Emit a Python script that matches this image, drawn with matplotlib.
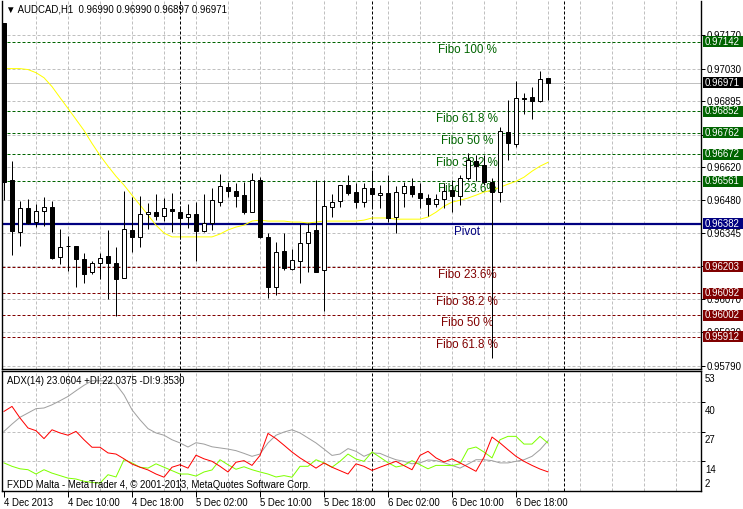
import matplotlib
matplotlib.use('Agg')
import matplotlib.pyplot as plt
from matplotlib.patches import Rectangle

# ---------------- data ----------------
opens = [0.97221, 0.96564, 0.96348, 0.96448, 0.96390, 0.96436, 0.96452, 0.96245, 0.96292, 0.96290,
         0.96236, 0.96182, 0.96220, 0.96249, 0.96220, 0.96157, 0.96357, 0.96328, 0.96423, 0.96431,
         0.96415, 0.96444, 0.96431, 0.96411, 0.96423, 0.96353, 0.96386, 0.96473, 0.96535, 0.96519,
         0.96502, 0.96431, 0.96564, 0.96328, 0.96120, 0.96269, 0.96195, 0.96228, 0.96303, 0.96357,
         0.96191, 0.96452, 0.96477, 0.96544, 0.96515, 0.96473, 0.96531, 0.96502, 0.96510, 0.96411,
         0.96510, 0.96540, 0.96510, 0.96490, 0.96465, 0.96486, 0.96523, 0.96498, 0.96573, 0.96643,
         0.96627, 0.96556, 0.96515, 0.96764, 0.96714, 0.96909, 0.96913, 0.96893, 0.96990]
highs = [0.97221, 0.96643, 0.96477, 0.96486, 0.96465, 0.96494, 0.96477, 0.96361, 0.96332, 0.96292,
         0.96261, 0.96228, 0.96261, 0.96357, 0.96286, 0.96519, 0.96494, 0.96498, 0.96469, 0.96506,
         0.96490, 0.96510, 0.96456, 0.96465, 0.96473, 0.96506, 0.96531, 0.96589, 0.96556, 0.96552,
         0.96556, 0.96594, 0.96577, 0.96344, 0.96307, 0.96344, 0.96278, 0.96382, 0.96386, 0.96564,
         0.96564, 0.96506, 0.96544, 0.96585, 0.96552, 0.96552, 0.96606, 0.96544, 0.96585, 0.96540,
         0.96556, 0.96573, 0.96552, 0.96506, 0.96506, 0.96552, 0.96564, 0.96585, 0.96677, 0.96668,
         0.96668, 0.96573, 0.96785, 0.96901, 0.96980, 0.96930, 0.96955, 0.97021, 0.96990]
lows = [0.96481, 0.96253, 0.96290, 0.96380, 0.96369, 0.96373, 0.96236, 0.96215, 0.96186, 0.96120,
        0.96137, 0.96174, 0.96153, 0.96070, 0.95999, 0.96155, 0.96265, 0.96286, 0.96361, 0.96398,
        0.96394, 0.96348, 0.96319, 0.96365, 0.96228, 0.96348, 0.96357, 0.96456, 0.96494, 0.96452,
        0.96423, 0.96431, 0.96323, 0.96074, 0.96087, 0.96191, 0.96191, 0.96137, 0.96182, 0.96180,
        0.96020, 0.96411, 0.96452, 0.96502, 0.96448, 0.96452, 0.96448, 0.96448, 0.96390, 0.96344,
        0.96452, 0.96494, 0.96448, 0.96415, 0.96452, 0.96448, 0.96431, 0.96461, 0.96564, 0.96560,
        0.96544, 0.95822, 0.96473, 0.96648, 0.96702, 0.96839, 0.96818, 0.96889, 0.96897]
closes = [0.96556, 0.96353, 0.96448, 0.96386, 0.96436, 0.96452, 0.96240, 0.96286, 0.96288, 0.96236,
          0.96174, 0.96220, 0.96240, 0.96220, 0.96153, 0.96361, 0.96328, 0.96423, 0.96431, 0.96415,
          0.96448, 0.96436, 0.96407, 0.96423, 0.96353, 0.96386, 0.96481, 0.96540, 0.96519, 0.96498,
          0.96431, 0.96564, 0.96328, 0.96120, 0.96265, 0.96199, 0.96232, 0.96303, 0.96348, 0.96182,
          0.96456, 0.96473, 0.96544, 0.96510, 0.96473, 0.96531, 0.96506, 0.96510, 0.96407, 0.96515,
          0.96540, 0.96506, 0.96490, 0.96465, 0.96486, 0.96519, 0.96498, 0.96573, 0.96648, 0.96623,
          0.96556, 0.96515, 0.96768, 0.96718, 0.96909, 0.96905, 0.96893, 0.96988, 0.96971]
ma_values = [0.97030, 0.97030, 0.97030, 0.97026, 0.97013, 0.96992, 0.96955, 0.96909, 0.96864, 0.96818,
             0.96772, 0.96718, 0.96668, 0.96623, 0.96581, 0.96544, 0.96502, 0.96461, 0.96419, 0.96377,
             0.96344, 0.96328, 0.96328, 0.96328, 0.96328, 0.96328, 0.96328, 0.96340, 0.96357, 0.96369,
             0.96377, 0.96394, 0.96398, 0.96394, 0.96394, 0.96394, 0.96390, 0.96390, 0.96386, 0.96390,
             0.96394, 0.96394, 0.96394, 0.96394, 0.96394, 0.96398, 0.96407, 0.96407, 0.96407, 0.96402,
             0.96402, 0.96402, 0.96402, 0.96411, 0.96431, 0.96456, 0.96473, 0.96481, 0.96490, 0.96502,
             0.96515, 0.96523, 0.96535, 0.96548, 0.96560, 0.96577, 0.96602, 0.96623, 0.96639]
adx = [27.2, 30.4, 33.4, 35.3, 37.2, 37.5, 38.9, 40.7, 42.6, 45.1,
       47.5, 49.5, 49.5, 49.5, 48.0, 43.3, 36.7, 32.3, 28.4, 26.5,
       25.5, 23.5, 22.1, 20.3, 22.2, 21.6, 20.4, 19.9, 19.4, 18.7,
       17.5, 16.2, 17.2, 22.1, 25.5, 26.9, 27.9, 26.5, 24.3, 22.1,
       19.4, 16.6, 17.2, 19.6, 18.4, 16.2, 17.7, 17.5, 16.0, 14.7,
       14.0, 12.9, 13.3, 14.6, 14.3, 13.4, 12.2, 11.0, 12.8, 14.7,
       14.7, 14.3, 13.3, 13.3, 14.0, 14.7, 16.2, 19.1, 23.06]
plus_di = [13.3, 11.8, 10.7, 10.3, 8.4, 10.3, 8.8, 7.7, 6.6, 6.2,
           5.2, 4.7, 4.4, 8.1, 7.1, 14.7, 13.3, 11.4, 11.0, 12.9,
           11.4, 9.9, 8.4, 8.4, 7.5, 9.3, 10.2, 14.7, 12.5, 10.5,
           11.6, 10.3, 9.3, 8.4, 7.1, 7.7, 7.0, 11.8, 11.8, 14.7,
           13.3, 11.4, 14.0, 17.2, 15.0, 14.0, 18.1, 15.8, 13.4, 11.5,
           12.2, 14.3, 12.5, 10.7, 12.2, 12.2, 12.1, 12.9, 19.4, 20.3,
           18.1, 15.5, 23.5, 25.0, 25.0, 21.6, 21.6, 25.0, 22.04]
minus_di = [36.0, 38.2, 33.1, 28.7, 27.5, 24.0, 27.9, 26.5, 25.5, 27.2,
            23.5, 20.2, 20.2, 17.7, 17.2, 15.1, 12.8, 11.4, 10.2, 8.4,
            7.0, 11.4, 12.5, 11.0, 16.7, 15.1, 14.0, 11.8, 9.3, 13.6,
            14.3, 12.2, 16.6, 26.3, 24.0, 21.1, 18.1, 15.5, 13.3, 11.0,
            13.3, 11.4, 9.9, 8.4, 12.9, 11.8, 10.0, 11.4, 12.7, 14.0,
            12.1, 10.3, 16.6, 18.4, 15.5, 13.7, 15.1, 13.3, 11.5, 9.6,
            15.8, 24.7, 22.1, 19.1, 16.2, 14.0, 12.2, 10.6, 9.35]

time_labels = ['4 Dec 2013', '4 Dec 10:00', '4 Dec 18:00', '5 Dec 02:00', '5 Dec 10:00',
               '5 Dec 18:00', '6 Dec 02:00', '6 Dec 10:00', '6 Dec 18:00']
price_grid = [0.97170, 0.97030, 0.96895, 0.96755, 0.96620, 0.96480, 0.96345, 0.96205,
              0.96070, 0.95930, 0.95790]
hidden_grid_labels = [0.96755, 0.96205]
fibo_up_levels = [0.97142, 0.96852, 0.96762, 0.96672, 0.96561]
fibo_up_names = ['Fibo 100 %', 'Fibo 61.8 %', 'Fibo 50 %', 'Fibo 38.2 %', 'Fibo 23.6%']
fibo_dn_levels = [0.96203, 0.96092, 0.96002, 0.95912]
fibo_dn_names = ['Fibo 23.6%', 'Fibo 38.2 %', 'Fibo 50 %', 'Fibo 61.8 %']
pivot_level = 0.96382
bid_price = 0.96971
adx_levels = [53, 40, 27, 14, 2]
title_text = '\u25bc AUDCAD,H1  0.96990 0.96990 0.96897 0.96971'
adx_text = 'ADX(14) 23.0604 +DI:22.0375 -DI:9.3530'
copyright_text = 'FXDD Malta - MetaTrader 4, \u00a9 2001-2013, MetaQuotes Software Corp.'

# ---------------- layout ----------------
W, H = 743, 509
FONT = ['Liberation Sans', 'DejaVu Sans']
plt.rcParams['font.family'] = FONT
fig = plt.figure(figsize=(W / 100, H / 100), dpi=100)
fig.patch.set_facecolor('white')

def fx(x):
    return x / W

def fy(y):
    return 1 - y / H

ax = fig.add_axes([fx(2), fy(369), fx(701) - fx(2), fy(1) - fy(369)])
ax2 = fig.add_axes([fx(2), fy(491), fx(701) - fx(2), fy(371) - fy(491)])

XMIN, XMAX = -0.25, 87.125
ax.set_xlim(XMIN, XMAX)
ax2.set_xlim(XMIN, XMAX)
ax.set_ylim(0.95777, 0.97312)
ax2.set_ylim(0.92, 53.8)

GRID = '#c0c0c0'
GREEN = '#006400'
RED = '#800000'
NAVY = '#000080'
PX = 0.72
SMALL = 6.9

for a in (ax, ax2):
    a.set_facecolor('white')
    for s in a.spines.values():
        s.set_color('black')
        s.set_linewidth(1.0)
    for k in range(4, 88, 4):
        a.axvline(k, color=GRID, lw=PX, dashes=(3, 2), zorder=0.5)
    for k in (22, 46, 70):
        a.axvline(k, color='black', lw=PX, dashes=(3, 2), zorder=0.8)
ax.spines['top'].set_visible(False)

for g in price_grid:
    ax.axhline(g, color=GRID, lw=PX, dashes=(3, 2), zorder=0.5)
for g in adx_levels[1:4]:
    ax2.axhline(g, color=GRID, lw=PX, dashes=(3, 2), zorder=0.5)

# fibo lines and texts
XT = (467 - 4) / 8
for lv, nm in zip(fibo_up_levels, fibo_up_names):
    ax.axhline(lv, color=GREEN, lw=PX, dashes=(3, 2), zorder=1)
    ax.annotate(nm, (XT, lv), xytext=(0, -1.5), textcoords='offset points',
                ha='center', va='top', color=GREEN, fontsize=8.4, zorder=1.5)
for lv, nm in zip(fibo_dn_levels, fibo_dn_names):
    ax.axhline(lv, color=RED, lw=PX, dashes=(3, 2), zorder=1)
    ax.annotate(nm, (XT, lv), xytext=(0, -1.5), textcoords='offset points',
                ha='center', va='top', color=RED, fontsize=8.4, zorder=1.5)
ax.axhline(pivot_level, color=NAVY, lw=1.6, zorder=1.2)
ax.annotate('Pivot', (XT, pivot_level), xytext=(0, -1.5), textcoords='offset points',
            ha='center', va='top', color=NAVY, fontsize=8.4, zorder=1.5)
ax.axhline(bid_price, color=GRID, lw=PX, zorder=1)

# moving average
xs = list(range(len(closes)))
ax.plot(xs, ma_values, color='#ffff00', lw=PX, zorder=2)

# candles
BW = 0.62
for k in xs:
    o, h, l, c = opens[k], highs[k], lows[k], closes[k]
    ax.plot([k, k], [l, h], color='black', lw=PX, zorder=3, solid_capstyle='butt')
    bottom = min(o, c)
    height = max(abs(c - o), 0.00002)
    fc = 'white' if c > o else 'black'
    ax.add_patch(Rectangle((k - BW / 2, bottom), BW, height, facecolor=fc,
                           edgecolor='black', lw=PX, zorder=4))

# price axis ticks
ax.set_xticks([])
ax.yaxis.tick_right()
ax.set_yticks(price_grid)
ax.set_yticklabels(['' if v in hidden_grid_labels else '%.5f' % v for v in price_grid])
ax.tick_params(axis='y', right=True, left=False, labelright=True, labelleft=False,
               length=3, width=PX, pad=1, labelsize=SMALL, direction='out')

# ADX lines
ax2.plot(xs, adx, color='#a0a0a0', lw=PX, zorder=2)
ax2.plot(xs, plus_di, color='#7fff00', lw=PX, zorder=2.1)
ax2.plot(xs, minus_di, color='#ff0000', lw=PX, zorder=2.2)
ax2.yaxis.tick_right()
ax2.set_yticks(adx_levels[1:4])
ax2.set_yticklabels([])
ax2.tick_params(axis='y', right=True, left=False, length=3, width=PX, direction='out')
ax2.set_xticks(list(range(0, 8 * len(time_labels), 8)))
ax2.set_xticklabels(time_labels)
ax2.tick_params(axis='x', length=4, width=PX, pad=1, labelsize=SMALL, direction='out')
for lab in ax2.get_xticklabels():
    lab.set_ha('left')

adx_label_y = [378.7, 411, 439.7, 469.7, 484]
for v, yy in zip(adx_levels, adx_label_y):
    fig.text(fx(705), fy(yy), str(v), va='center', ha='left', fontsize=SMALL)

# price boxes
def price_box(p, color, txt_color='white'):
    ypix = ax.transData.transform((0, p))[1]
    yfrac = ypix / H
    hh = 11 / H
    fig.add_artist(Rectangle((fx(702.5), yfrac - hh / 2), fx(743) - fx(702.5), hh,
                             transform=fig.transFigure, facecolor=color, edgecolor='none',
                             zorder=5))
    fig.text(fx(705), yfrac, '%.5f' % p, va='center', ha='left', fontsize=SMALL,
             color=txt_color, zorder=6)

for lv in fibo_up_levels:
    price_box(lv, GREEN)
for lv in fibo_dn_levels:
    price_box(lv, RED)
price_box(pivot_level, NAVY)
price_box(bid_price, 'black')

# header texts
fig.text(fx(6), fy(10), title_text, va='center', ha='left', fontsize=SMALL)
fig.text(fx(7), fy(381), adx_text, va='center', ha='left', fontsize=SMALL)
fig.text(fx(7), fy(484.5), copyright_text, va='center', ha='left', fontsize=SMALL)

fig.savefig('out.png', dpi=100, facecolor='white')
